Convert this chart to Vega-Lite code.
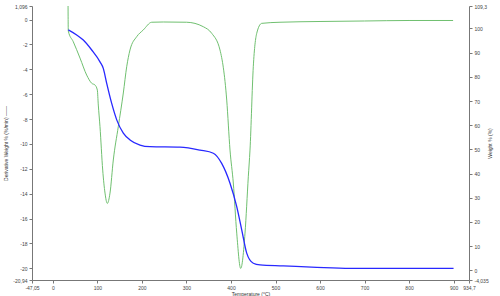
{
  "$schema": "https://vega.github.io/schema/vega-lite/v6.json",
  "width": 437,
  "height": 274,
  "autosize": {"type": "none"},
  "padding": {"left": 32, "top": 6, "right": 31, "bottom": 16},
  "background": "white",
  "config": {
    "view": {"stroke": null},
    "axis": {
      "grid": false,
      "domainColor": "#777777",
      "tickColor": "#777777",
      "tickSize": 3,
      "labelFontSize": 5,
      "labelColor": "#444444",
      "labelFont": "Liberation Sans",
      "titleFont": "Liberation Sans",
      "titleFontSize": 5,
      "titleFontWeight": "normal",
      "titleColor": "#333333",
      "labelOverlap": false,
      "labelFlush": false,
      "labelPadding": 2
    }
  },
  "datasets": {
    "deriv": [
      {"T": 33.8, "v": 2.0},
      {"T": 34.5, "v": -0.92},
      {"T": 45.7, "v": -1.78},
      {"T": 60.8, "v": -3.09},
      {"T": 75.8, "v": -4.46},
      {"T": 87.1, "v": -5.12},
      {"T": 94.5, "v": -5.26},
      {"T": 99.7, "v": -5.66},
      {"T": 101.9, "v": -6.87},
      {"T": 105.7, "v": -8.61},
      {"T": 111.8, "v": -12.1},
      {"T": 117.0, "v": -13.95},
      {"T": 122.1, "v": -14.78},
      {"T": 128.2, "v": -13.95},
      {"T": 135.6, "v": -11.29},
      {"T": 146.8, "v": -8.61},
      {"T": 158.1, "v": -5.9},
      {"T": 165.7, "v": -3.79},
      {"T": 173.1, "v": -2.44},
      {"T": 188.2, "v": -1.37},
      {"T": 203.0, "v": -0.83},
      {"T": 221.9, "v": -0.21},
      {"T": 247.9, "v": -0.19},
      {"T": 300.5, "v": -0.21},
      {"T": 337.8, "v": -0.57},
      {"T": 356.7, "v": -1.1},
      {"T": 375.3, "v": -2.44},
      {"T": 390.4, "v": -6.47},
      {"T": 397.8, "v": -10.49},
      {"T": 405.2, "v": -13.14},
      {"T": 412.9, "v": -17.17},
      {"T": 421.8, "v": -20.01},
      {"T": 431.5, "v": -17.17},
      {"T": 438.9, "v": -12.64},
      {"T": 442.7, "v": -10.49},
      {"T": 450.1, "v": -3.79},
      {"T": 457.8, "v": -1.1},
      {"T": 469.0, "v": -0.3},
      {"T": 510.1, "v": -0.21},
      {"T": 600.0, "v": -0.15},
      {"T": 700.0, "v": -0.11},
      {"T": 800.0, "v": -0.07},
      {"T": 899.0, "v": -0.07}
    ],
    "weight": [
      {"T": 34.5, "w": 99.4},
      {"T": 53.4, "w": 97.3},
      {"T": 68.2, "w": 95.2},
      {"T": 87.1, "w": 91.1},
      {"T": 105.7, "w": 86.2},
      {"T": 113.1, "w": 83.5},
      {"T": 120.8, "w": 77.3},
      {"T": 132.0, "w": 69.0},
      {"T": 143.3, "w": 62.2},
      {"T": 158.1, "w": 56.7},
      {"T": 173.1, "w": 53.9},
      {"T": 195.6, "w": 51.8},
      {"T": 218.1, "w": 51.1},
      {"T": 285.4, "w": 50.9},
      {"T": 330.4, "w": 49.7},
      {"T": 360.3, "w": 48.4},
      {"T": 379.1, "w": 44.2},
      {"T": 397.8, "w": 36.0},
      {"T": 412.9, "w": 26.3},
      {"T": 424.1, "w": 16.7},
      {"T": 435.3, "w": 7.1},
      {"T": 450.1, "w": 2.9},
      {"T": 465.2, "w": 2.2},
      {"T": 517.5, "w": 1.8},
      {"T": 592.6, "w": 1.2},
      {"T": 667.4, "w": 0.8},
      {"T": 900.0, "w": 0.8}
    ]
  },
  "encoding": {
    "x": {
      "field": "T",
      "type": "quantitative",
      "scale": {"domain": [-47.05, 934.7], "nice": false, "zero": false},
      "axis": {
        "title": "Temperature (°C)",
        "values": [-47.05, 0, 100, 200, 300, 400, 500, 600, 700, 800, 900, 934.7],
        "labelExpr": "replace(toString(datum.value), '.', ',')",
        "titlePadding": 1
      }
    }
  },
  "layer": [
    {
      "data": {"name": "deriv"},
      "mark": {"type": "line", "color": "#70c070", "strokeWidth": 1, "clip": true, "interpolate": "monotone"},
      "encoding": {
        "y": {
          "field": "v",
          "type": "quantitative",
          "scale": {"domain": [-20.94, 1.096], "nice": false, "zero": false},
          "axis": {
            "orient": "left",
            "title": "Derivative Weight % (%/min) ——",
            "values": [-20.94, -20, -18, -16, -14, -12, -10, -8, -6, -4, -2, 0, 1.096],
            "labelExpr": "replace(toString(datum.value), '.', ',')",
            "titlePadding": 4
          }
        }
      }
    },
    {
      "data": {"name": "weight"},
      "mark": {"type": "line", "color": "#2828ff", "strokeWidth": 1.3, "clip": true, "interpolate": "monotone"},
      "encoding": {
        "y": {
          "field": "w",
          "type": "quantitative",
          "scale": {"domain": [-4.035, 109.3], "nice": false, "zero": false},
          "axis": {
            "orient": "right",
            "title": "Weight % (%)",
            "titleAngle": 270,
            "values": [-4.035, 0, 10, 20, 30, 40, 50, 60, 70, 80, 90, 100, 109.3],
            "labelExpr": "replace(toString(datum.value), '.', ',')",
            "titlePadding": 4
          }
        }
      }
    }
  ],
  "resolve": {"scale": {"y": "independent"}}
}
